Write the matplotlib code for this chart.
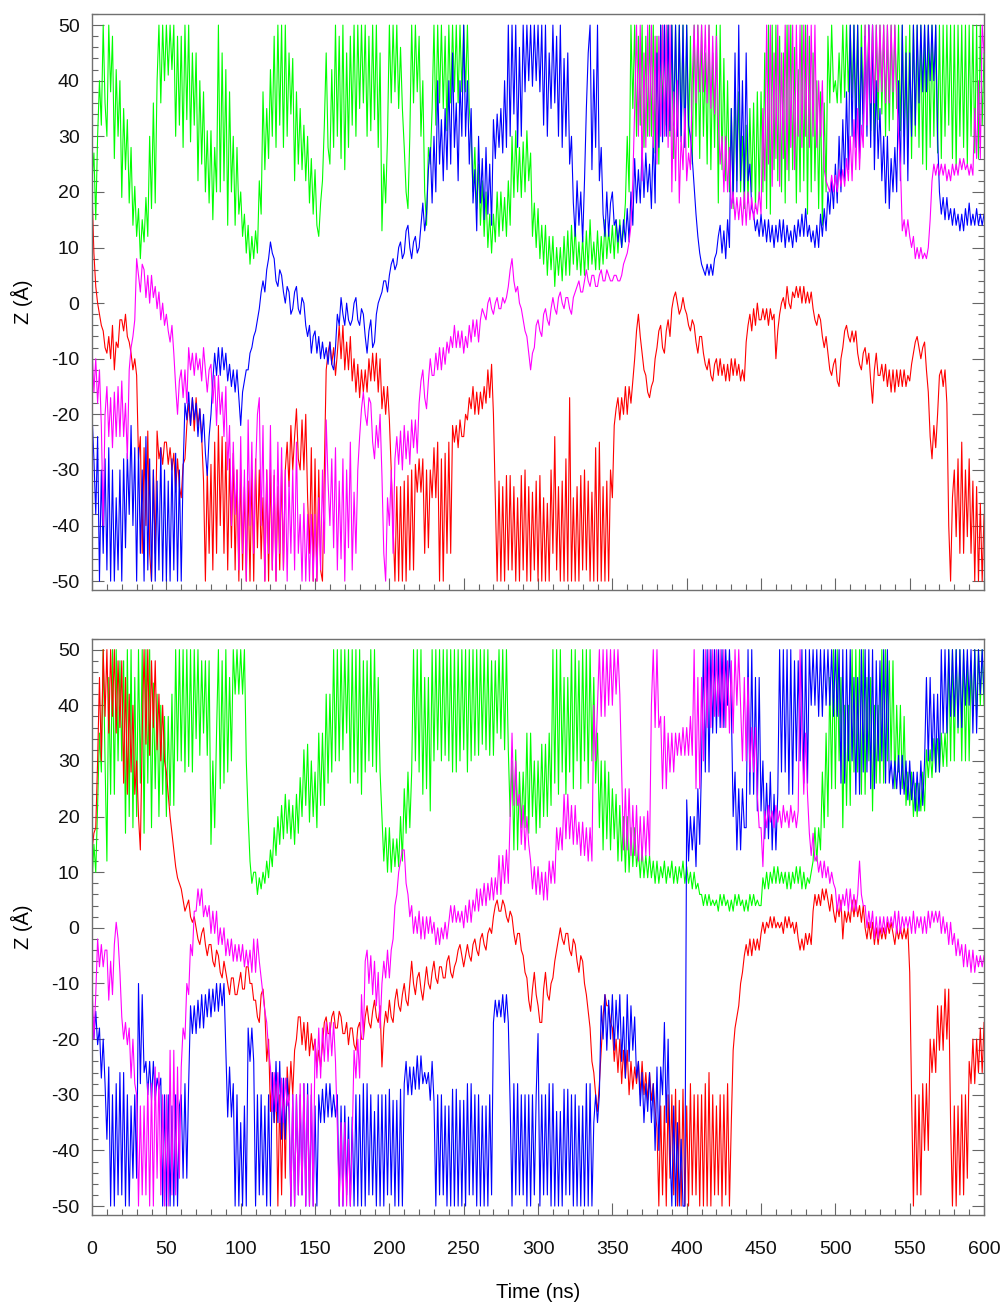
import numpy as np
import matplotlib
matplotlib.use("Agg")
import matplotlib.pyplot as plt
from matplotlib.ticker import MultipleLocator

plt.rcParams['font.family'] = ['Liberation Sans', 'DejaVu Sans']
plt.rcParams['axes.unicode_minus'] = False

STEP_NS = 1.25  # values below are read every 1.25 ns (one row = 50 ns)

# ---------------- top panel ----------------
top_green = [
    22, 27, 15, 30, 40, 32, 50, 36, 30, 50, 38, 48, 26, 42, 30, 40, 19, 35, 24, 33, 18, 28, 14, 21, 12, 17, 8, 15, 11, 19, 12, 30, 17, 36, 18, 40, 50, 36, 50, 40,
    50, 41, 50, 42, 50, 30, 48, 32, 48, 28, 50, 33, 50, 29, 45, 32, 45, 22, 40, 25, 38, 20, 31, 18, 31, 15, 28, 20, 50, 20, 45, 22, 42, 14, 38, 20, 30, 14, 28, 16,
    20, 12, 16, 9, 14, 7, 12, 8, 13, 9, 22, 16, 38, 24, 35, 26, 42, 30, 48, 28, 50, 32, 50, 28, 50, 30, 45, 34, 44, 22, 38, 25, 35, 24, 32, 22, 30, 18, 26, 16,
    24, 14, 12, 18, 22, 32, 45, 28, 25, 42, 28, 50, 30, 48, 26, 50, 24, 45, 28, 48, 32, 50, 30, 50, 35, 50, 36, 50, 30, 48, 31, 50, 33, 50, 28, 45, 13, 25, 18, 30,
    50, 36, 50, 38, 50, 35, 46, 35, 28, 20, 17, 30, 50, 36, 50, 38, 48, 30, 40, 20, 14, 28, 25, 35, 50, 32, 50, 36, 50, 35, 48, 31, 50, 36, 50, 38, 50, 36, 50, 38,
    50, 38, 50, 35, 30, 20, 28, 17, 25, 14, 22, 12, 20, 10, 16, 9, 16, 11, 20, 12, 20, 13, 19, 12, 22, 14, 30, 19, 31, 20, 28, 19, 29, 20, 31, 22, 27, 12, 18, 10,
    17, 8, 14, 7, 14, 5, 12, 6, 12, 3, 10, 5, 10, 4, 12, 5, 13, 5, 14, 7, 14, 6, 11, 5, 12, 5, 13, 6, 15, 7, 11, 6, 13, 6, 12, 7, 15, 8, 13, 9,
    14, 8, 15, 9, 15, 10, 13, 18, 30, 20, 50, 35, 50, 30, 48, 32, 50, 28, 48, 30, 50, 30, 50, 27, 48, 25, 50, 34, 50, 32, 50, 30, 50, 26, 50, 30, 50, 30, 50, 28,
    50, 28, 48, 25, 50, 30, 50, 26, 50, 30, 45, 25, 50, 24, 45, 28, 50, 18, 50, 24, 44, 22, 40, 20, 35, 17, 38, 22, 38, 20, 30, 17, 32, 18, 35, 20, 36, 17, 38, 19,
    38, 20, 45, 17, 50, 16, 50, 24, 50, 22, 48, 20, 45, 18, 50, 22, 50, 24, 46, 18, 42, 20, 50, 22, 50, 16, 48, 20, 45, 22, 40, 17, 38, 14, 36, 20, 48, 36, 50, 38,
    40, 36, 45, 36, 50, 37, 50, 38, 50, 37, 50, 35, 50, 32, 50, 34, 50, 35, 50, 31, 50, 30, 50, 33, 50, 34, 50, 30, 50, 31, 50, 33, 50, 35, 50, 31, 50, 30, 48, 28,
    50, 26, 50, 30, 50, 28, 50, 25, 50, 24, 50, 28, 50, 30, 50, 27, 50, 26, 50, 30, 50, 32, 50, 26, 50, 24, 50, 30, 50, 28, 50, 25, 50, 30, 50, 27, 50, 26, 50, 32,
    45,
]
top_blue = [
    -20, -28, -38, -24, -50, -30, -45, -28, -48, -26, -50, -30, -50, -35, -48, -30, -50, -28, -44, -27, -38, -22, -40, -26, -50, -26, -45, -30, -50, -24, -48, -28, -50, -30, -50, -32, -48, -26, -50, -30,
    -50, -32, -50, -28, -48, -27, -50, -30, -50, -30, -18, -21, -16, -22, -17, -21, -18, -24, -19, -25, -20, -27, -31, -24, -20, -14, -9, -13, -8, -13, -8, -12, -9, -14, -11, -15, -12, -16, -12, -17,
    -22, -16, -14, -12, -12, -9, -8, -6, -5, -3, -1, 2, 4, 2, 6, 8, 11, 9, 8, 4, 3, 6, 5, 2, 0, 3, 2, -2, -1, 2, 3, -1, -2, 1, 0, -4, -6, -4, -9, -6,
    -5, -9, -6, -10, -7, -10, -8, -11, -7, -11, -12, -8, -2, -4, 1, -2, -4, 0, -3, -4, -3, 0, 1, -3, -4, -1, -2, -6, -9, -5, -3, -8, -7, -2, 0, 1, 2, 4, 4, 2,
    5, 7, 8, 6, 7, 10, 11, 8, 9, 13, 14, 10, 8, 11, 12, 9, 10, 14, 18, 13, 16, 24, 28, 18, 30, 20, 40, 25, 33, 22, 35, 24, 40, 25, 45, 28, 36, 22, 40, 30,
    50, 30, 40, 25, 35, 18, 24, 13, 30, 18, 26, 15, 28, 16, 25, 14, 33, 26, 34, 28, 35, 27, 40, 28, 50, 30, 50, 34, 50, 28, 46, 30, 50, 38, 50, 40, 50, 39, 50, 40,
    50, 38, 50, 32, 50, 30, 45, 35, 50, 36, 48, 30, 50, 28, 44, 30, 45, 25, 30, 18, 12, 22, 14, 20, 11, 22, 35, 45, 50, 24, 42, 28, 50, 22, 28, 16, 12, 20, 12, 18,
    20, 14, 15, 11, 14, 10, 15, 11, 17, 11, 20, 14, 26, 18, 24, 18, 28, 19, 27, 20, 25, 17, 30, 18, 45, 28, 50, 29, 50, 30, 50, 31, 50, 32, 50, 30, 50, 29, 50, 28,
    50, 32, 30, 26, 21, 16, 12, 9, 7, 6, 5, 7, 5, 7, 5, 8, 9, 12, 14, 9, 13, 8, 15, 10, 35, 18, 45, 20, 50, 22, 40, 20, 45, 22, 25, 17, 16, 13, 15, 12,
    16, 12, 15, 11, 15, 11, 14, 10, 14, 11, 15, 11, 15, 10, 14, 11, 13, 10, 14, 11, 15, 12, 16, 12, 17, 12, 14, 11, 13, 10, 14, 10, 16, 12, 17, 13, 20, 16, 22, 17,
    25, 18, 30, 20, 33, 22, 38, 24, 50, 30, 50, 28, 50, 26, 46, 30, 48, 30, 50, 28, 50, 24, 40, 26, 35, 22, 30, 18, 30, 17, 26, 20, 28, 20, 40, 22, 50, 25, 45, 22,
    45, 30, 50, 32, 50, 36, 50, 38, 50, 38, 50, 40, 50, 40, 50, 30, 20, 16, 19, 15, 19, 15, 17, 14, 17, 14, 16, 13, 16, 13, 17, 14, 18, 14, 16, 14, 17, 14, 16, 14,
    16,
]
top_red = [
    20, 9, 3, 0, -2, -4, -5, -8, -9, -6, -10, -4, -12, -7, -8, -3, -3, -5, -2, -6, -7, -9, -12, -10, -13, -28, -24, -45, -26, -40, -23, -45, -50, -30, -45, -23, -28, -26, -29, -25,
    -25, -29, -26, -30, -27, -34, -28, -33, -35, -29, -28, -22, -18, -22, -17, -23, -17, -22, -19, -24, -32, -50, -30, -45, -29, -48, -25, -45, -22, -40, -24, -45, -25, -48, -28, -44, -27, -48, -30, -50,
    -30, -48, -33, -50, -32, -50, -30, -50, -28, -44, -30, -46, -35, -50, -30, -50, -30, -48, -31, -50, -33, -48, -30, -48, -30, -25, -33, -22, -30, -24, -19, -28, -30, -21, -30, -20, -35, -45, -26, -50,
    -28, -50, -30, -48, -50, -30, -12, -9, -7, -11, -8, -13, -9, -4, -10, -4, -12, -7, -12, -6, -14, -10, -16, -11, -17, -12, -16, -12, -16, -10, -14, -9, -14, -9, -16, -10, -19, -15, -20, -15,
    -21, -30, -40, -50, -33, -50, -33, -50, -32, -50, -31, -48, -30, -48, -29, -34, -28, -34, -28, -45, -30, -44, -30, -35, -26, -35, -25, -50, -28, -50, -27, -45, -25, -45, -22, -25, -22, -26, -21, -24,
    -24, -20, -21, -17, -19, -15, -20, -16, -20, -16, -19, -15, -18, -12, -17, -11, -20, -35, -50, -32, -50, -33, -50, -31, -48, -31, -48, -33, -50, -35, -50, -31, -48, -30, -50, -33, -50, -34, -48, -32,
    -50, -31, -50, -35, -50, -36, -50, -30, -45, -24, -48, -33, -50, -32, -50, -28, -50, -17, -50, -35, -50, -33, -50, -31, -48, -30, -48, -32, -50, -34, -50, -26, -50, -25, -50, -33, -50, -32, -50, -30,
    -35, -22, -19, -17, -21, -17, -20, -15, -20, -15, -18, -14, -10, -5, -2, -6, -9, -12, -13, -16, -17, -15, -14, -10, -8, -5, -4, -8, -9, -5, -3, -6, -1, 1, 2, 0, -2, -1, 1, -1,
    -2, -4, -5, -3, -4, -7, -9, -6, -6, -9, -11, -12, -10, -13, -14, -11, -10, -13, -10, -13, -11, -14, -11, -14, -10, -13, -10, -13, -11, -14, -12, -14, -7, -4, -2, -5, -1, -4, 0, -3,
    -3, -1, -3, -1, -4, -1, -3, -2, -10, -5, -2, 0, 1, -1, 3, 0, -1, 2, 1, 3, 1, 3, 0, 3, 0, 2, 0, 2, -1, -3, -4, -2, -3, -6, -8, -6, -9, -12, -13, -11,
    -10, -14, -15, -10, -8, -5, -4, -6, -7, -5, -7, -5, -9, -11, -12, -9, -8, -11, -9, -14, -18, -12, -9, -13, -13, -11, -14, -11, -15, -12, -16, -12, -16, -12, -15, -12, -15, -12, -15, -13,
    -14, -11, -9, -7, -6, -8, -10, -8, -7, -12, -16, -24, -28, -22, -26, -20, -13, -12, -15, -12, -18, -40, -50, -35, -30, -42, -28, -45, -25, -45, -30, -42, -28, -45, -32, -50, -33, -50, -36, -50,
    -38,
]
top_magenta = [
    -8, -16, -10, -18, -12, -22, -40, -20, -15, -24, -17, -26, -16, -24, -15, -24, -14, -24, -18, -28, -12, -8, -6, -3, 8, 5, 2, 7, 6, 1, 5, 0, 5, 1, 3, -1, 2, -3, 0, -4,
    -2, -5, -7, -4, -9, -15, -20, -14, -12, -17, -12, -18, -8, -12, -9, -13, -9, -12, -10, -14, -8, -12, -16, -12, -11, -18, -13, -22, -13, -20, -16, -24, -15, -30, -22, -40, -25, -38, -30, -48,
    -24, -45, -30, -50, -21, -40, -25, -45, -30, -20, -17, -40, -22, -50, -30, -45, -22, -48, -30, -50, -25, -45, -26, -48, -30, -50, -32, -45, -30, -48, -25, -45, -38, -50, -36, -50, -38, -50, -38, -50,
    -38, -50, -35, -48, -30, -45, -21, -32, -40, -28, -44, -26, -48, -32, -46, -28, -50, -30, -44, -25, -48, -34, -45, -30, -24, -19, -16, -20, -22, -17, -18, -25, -28, -22, -26, -20, -31, -45, -50, -35,
    -40, -30, -45, -28, -24, -29, -23, -30, -22, -28, -23, -29, -21, -26, -21, -27, -18, -14, -12, -17, -19, -14, -10, -13, -13, -9, -12, -8, -12, -8, -11, -7, -9, -6, -8, -4, -8, -5, -8, -5,
    -9, -6, -8, -4, -7, -3, -6, -3, -7, -3, -1, -2, -3, 0, 1, -1, -2, 0, 1, -1, -1, 1, 0, 1, 3, 6, 8, 4, 2, 3, 0, -1, -3, -5, -6, -9, -12, -9, -8, -4,
    -3, -5, -6, -2, -1, -3, -4, -1, 1, -1, -2, 1, 2, 0, -1, 1, 1, -1, -2, 1, 2, 3, 4, 2, 2, 4, 6, 4, 3, 5, 5, 3, 3, 5, 6, 4, 4, 6, 5, 4,
    4, 5, 5, 4, 4, 5, 7, 8, 9, 11, 14, 22, 35, 50, 30, 50, 22, 45, 28, 50, 30, 50, 28, 48, 25, 48, 30, 50, 30, 50, 28, 50, 20, 38, 22, 40, 18, 30, 24, 35,
    22, 27, 24, 40, 50, 36, 50, 38, 50, 38, 50, 36, 50, 35, 48, 34, 48, 33, 25, 30, 20, 30, 20, 28, 17, 20, 15, 19, 15, 19, 14, 20, 14, 20, 15, 19, 15, 18, 16, 20,
    16, 35, 22, 50, 25, 50, 21, 45, 26, 50, 21, 45, 26, 50, 24, 50, 28, 50, 24, 50, 30, 50, 28, 50, 30, 50, 28, 50, 30, 50, 28, 40, 30, 40, 24, 22, 21, 20, 23, 20,
    23, 20, 24, 21, 24, 21, 26, 22, 30, 22, 33, 24, 35, 24, 32, 28, 50, 32, 50, 36, 50, 36, 50, 38, 50, 38, 50, 36, 50, 36, 50, 38, 50, 38, 30, 25, 13, 15, 12, 15,
    12, 10, 12, 8, 10, 8, 10, 8, 9, 8, 10, 15, 22, 25, 23, 25, 23, 25, 23, 25, 22, 24, 22, 25, 23, 25, 23, 26, 24, 26, 24, 25, 23, 25, 23, 35, 26, 40, 26, 50,
    45,
]

# ---------------- bottom panel ----------------
bottom_green = [
    8, 15, 10, 22, 35, 28, 50, 30, 12, 45, 24, 50, 24, 50, 30, 48, 30, 48, 17, 50, 20, 50, 18, 45, 20, 50, 26, 50, 17, 50, 26, 50, 18, 44, 25, 42, 20, 40, 24, 38,
    20, 38, 22, 42, 22, 50, 30, 50, 30, 50, 28, 50, 29, 50, 28, 50, 34, 50, 31, 48, 35, 48, 31, 48, 15, 30, 18, 35, 50, 25, 48, 26, 50, 28, 45, 30, 50, 42, 50, 42,
    50, 42, 50, 30, 20, 12, 8, 10, 10, 6, 9, 7, 10, 8, 12, 9, 14, 11, 18, 13, 20, 15, 22, 16, 24, 17, 23, 16, 22, 15, 24, 17, 27, 20, 32, 22, 33, 19, 30, 20,
    28, 18, 35, 22, 35, 22, 42, 26, 42, 28, 50, 30, 50, 30, 50, 32, 50, 35, 50, 26, 50, 28, 50, 26, 50, 24, 48, 28, 48, 30, 50, 29, 50, 28, 45, 28, 20, 12, 18, 10,
    18, 10, 16, 11, 16, 11, 20, 12, 25, 17, 28, 18, 28, 50, 30, 50, 28, 50, 24, 45, 25, 45, 21, 50, 30, 50, 32, 50, 30, 50, 31, 50, 30, 50, 28, 50, 28, 50, 30, 50,
    32, 50, 28, 50, 30, 50, 31, 50, 31, 50, 33, 50, 32, 50, 31, 48, 31, 48, 35, 50, 34, 50, 32, 50, 32, 20, 30, 14, 32, 14, 28, 18, 28, 18, 35, 17, 35, 20, 30, 17,
    30, 18, 33, 20, 33, 20, 35, 22, 50, 26, 50, 24, 50, 28, 45, 24, 45, 28, 50, 25, 50, 30, 48, 25, 50, 30, 50, 26, 50, 30, 45, 26, 35, 18, 30, 14, 30, 16, 28, 14,
    25, 16, 24, 12, 22, 12, 20, 10, 20, 10, 18, 11, 18, 11, 14, 9, 14, 9, 13, 9, 13, 9, 12, 8, 12, 8, 11, 9, 12, 8, 11, 9, 12, 8, 11, 8, 11, 9, 12, 8,
    11, 8, 10, 7, 10, 7, 8, 6, 6, 4, 6, 4, 6, 4, 5, 4, 5, 3, 6, 4, 6, 4, 5, 3, 5, 3, 6, 4, 6, 4, 5, 3, 5, 3, 6, 4, 6, 4, 5, 4,
    4, 9, 7, 10, 7, 10, 8, 11, 8, 11, 8, 10, 8, 10, 7, 10, 7, 10, 8, 11, 8, 11, 7, 10, 7, 9, 8, 10, 12, 18, 12, 18, 14, 28, 18, 35, 20, 45, 25, 50,
    25, 50, 30, 45, 18, 40, 22, 40, 22, 50, 28, 50, 28, 50, 24, 50, 24, 45, 30, 45, 21, 40, 26, 40, 26, 50, 26, 50, 30, 48, 30, 48, 25, 40, 28, 40, 25, 38, 22, 28,
    22, 28, 20, 26, 20, 26, 21, 28, 21, 32, 27, 32, 27, 34, 28, 34, 28, 35, 29, 35, 29, 50, 30, 50, 30, 50, 35, 50, 30, 50, 30, 48, 30, 48, 38, 50, 38, 50, 40, 50,
    40,
]
bottom_blue = [
    -14, -20, -15, -21, -18, -27, -20, -28, -38, -25, -50, -30, -50, -28, -48, -26, -48, -26, -50, -30, -50, -32, -45, -30, -45, -10, -28, -12, -26, -24, -30, -24, -31, -24, -31, -27, -29, -27, -50, -30,
    -50, -30, -50, -32, -50, -30, -50, -32, -30, -45, -28, -45, -28, -14, -19, -14, -19, -13, -18, -12, -18, -12, -16, -11, -16, -11, -15, -10, -15, -10, -14, -10, -22, -34, -25, -34, -28, -50, -30, -50,
    -35, -50, -32, -50, -18, -24, -18, -24, -50, -30, -48, -30, -48, -32, -50, -30, -50, -26, -35, -24, -35, -24, -38, -27, -38, -27, -33, -50, -30, -50, -30, -48, -30, -48, -28, -50, -28, -50, -30, -50,
    -32, -50, -30, -35, -29, -35, -28, -34, -28, -34, -30, -34, -30, -50, -32, -50, -32, -48, -34, -50, -34, -50, -30, -50, -30, -50, -28, -50, -28, -48, -30, -48, -33, -50, -30, -50, -30, -50, -30, -48,
    -29, -48, -31, -50, -31, -50, -29, -50, -28, -24, -30, -25, -30, -25, -29, -23, -29, -23, -28, -26, -28, -26, -31, -24, -31, -50, -30, -48, -30, -48, -32, -50, -32, -50, -29, -50, -29, -50, -31, -50,
    -31, -50, -28, -48, -28, -48, -30, -50, -30, -50, -32, -50, -32, -50, -30, -48, -17, -13, -16, -13, -16, -12, -17, -12, -17, -32, -50, -28, -48, -28, -48, -30, -48, -30, -50, -30, -50, -30, -48, -30,
    -19, -50, -30, -48, -30, -48, -28, -50, -28, -50, -33, -50, -33, -50, -29, -48, -29, -48, -30, -50, -30, -50, -32, -50, -32, -50, -28, -50, -28, -50, -35, -30, -35, -30, -14, -20, -12, -22, -13, -20,
    -12, -22, -13, -20, -12, -24, -16, -27, -12, -24, -14, -22, -16, -27, -24, -32, -26, -35, -28, -33, -26, -35, -28, -40, -25, -40, -25, -30, -17, -35, -20, -40, -50, -32, -50, -35, -50, -38, -50, -50,
    23, 12, 20, 14, 20, 11, 25, 15, 30, 50, 28, 50, 28, 50, 35, 50, 35, 50, 36, 50, 36, 50, 40, 50, 40, 20, 28, 14, 25, 14, 25, 18, 18, 50, 24, 50, 24, 45, 21, 45,
    21, 30, 16, 26, 16, 28, 14, 24, 14, 24, 50, 28, 50, 28, 50, 24, 50, 24, 48, 30, 48, 30, 50, 26, 50, 26, 50, 40, 50, 40, 50, 38, 50, 38, 50, 40, 50, 40, 50, 38,
    50, 38, 50, 26, 50, 26, 50, 30, 50, 30, 45, 24, 45, 24, 50, 28, 50, 28, 50, 25, 50, 25, 48, 30, 48, 30, 50, 26, 50, 26, 30, 25, 30, 25, 31, 24, 31, 24, 30, 23,
    30, 23, 28, 21, 28, 21, 30, 22, 30, 45, 30, 45, 30, 42, 28, 42, 28, 50, 35, 50, 35, 50, 38, 50, 38, 50, 36, 50, 36, 50, 40, 50, 40, 50, 35, 50, 35, 50, 42, 50,
    42,
]
bottom_red = [
    14, 17, 18, 30, 45, 30, 50, 38, 50, 35, 50, 38, 50, 35, 48, 36, 48, 26, 45, 24, 42, 28, 40, 24, 30, 20, 14, 35, 50, 33, 50, 31, 48, 36, 48, 32, 42, 30, 40, 30,
    28, 24, 20, 17, 14, 11, 9, 8, 7, 5, 3, 4, 5, 2, 1, 2, 0, -2, -3, -1, 0, -3, -5, -3, -3, -6, -7, -4, -5, -8, -9, -6, -8, -10, -12, -9, -9, -12, -12, -10,
    -8, -11, -11, -7, -7, -10, -10, -13, -13, -16, -17, -12, -11, -15, -24, -20, -33, -26, -35, -28, -50, -30, -48, -28, -45, -25, -31, -24, -30, -22, -20, -16, -16, -21, -17, -22, -17, -23, -19, -22,
    -20, -25, -22, -25, -21, -17, -16, -19, -19, -16, -15, -18, -18, -15, -16, -19, -19, -17, -21, -18, -18, -21, -22, -18, -17, -20, -20, -16, -14, -17, -18, -15, -13, -16, -17, -14, -25, -18, -15, -17,
    -13, -16, -17, -13, -11, -14, -15, -12, -10, -13, -14, -10, -6, -10, -12, -9, -8, -11, -13, -10, -7, -10, -11, -8, -6, -9, -10, -7, -7, -9, -9, -6, -5, -8, -9, -7, -6, -4, -3, -5,
    -7, -5, -3, -5, -6, -3, -2, -4, -5, -2, -1, -3, -4, -1, 0, -1, 2, 4, 5, 3, 3, 5, 4, 2, 1, 3, 2, -1, -3, -1, -1, -4, -5, -8, -9, -13, -15, -11, -8, -12,
    -14, -17, -17, -11, -8, -12, -13, -10, -9, -6, -4, -2, 0, -2, -3, -1, -1, -4, -5, -2, -3, -6, -8, -5, -6, -10, -12, -15, -18, -24, -26, -30, -33, -28, -22, -16, -12, -14, -14, -17,
    -18, -24, -20, -26, -20, -28, -22, -27, -22, -30, -24, -29, -25, -28, -24, -30, -24, -30, -26, -31, -26, -31, -28, -33, -36, -50, -32, -48, -32, -50, -30, -45, -30, -48, -29, -50, -31, -50, -29, -50,
    -32, -50, -28, -48, -30, -48, -30, -50, -30, -50, -28, -50, -26, -50, -30, -48, -32, -48, -30, -50, -30, -48, -28, -50, -35, -22, -18, -16, -14, -10, -8, -5, -3, -5, -2, -5, -2, -4, -2, -4,
    -1, 1, -1, 1, 0, 2, 0, 2, 0, 1, 0, 1, -1, 2, 0, 2, 0, 1, -1, 1, -2, -4, -2, -4, -1, -3, -1, -3, 3, 6, 4, 6, 4, 7, 5, 7, 5, 3, 6, 3,
    1, 4, 2, 5, -2, 3, 1, 3, 1, 5, 2, 5, 2, 4, 1, 4, 0, -2, 1, -2, 1, -3, 0, -3, 0, -2, 0, -2, 1, -1, 1, -1, -3, 0, -2, 0, -2, 0, -2, 0,
    -8, -30, -50, -30, -48, -30, -48, -28, -40, -28, -40, -20, -26, -20, -26, -14, -22, -14, -22, -11, -20, -11, -35, -50, -32, -50, -32, -48, -30, -48, -30, -45, -24, -28, -20, -28, -20, -26, -18, -26,
    -17,
]
bottom_magenta = [
    -10, -20, -12, -2, -7, -3, -7, -4, -4, -13, -6, -12, -3, 1, -2, -8, -16, -20, -17, -21, -18, -27, -20, -28, -30, -50, -32, -48, -32, -48, -28, -50, -28, -50, -25, -45, -26, -48, -30, -50,
    -30, -50, -22, -48, -22, -48, -25, -45, -25, -18, -20, -10, -12, -3, -5, 3, 3, 7, 4, 7, 2, 4, 2, 4, -1, 3, -1, 3, -3, 0, -3, 0, -5, -2, -5, -2, -6, -3, -6, -3,
    -6, -3, -7, -4, -7, -4, -8, -2, -8, -2, -6, -9, -12, -15, -17, -22, -25, -33, -26, -33, -26, -35, -27, -35, -27, -32, -30, -50, -30, -50, -30, -48, -28, -48, -28, -50, -30, -50, -28, -50,
    -20, -27, -18, -27, -18, -24, -17, -24, -17, -23, -17, -24, -36, -50, -35, -50, -35, -50, -38, -50, -38, -22, -27, -20, -27, -12, -20, -6, -4, -10, -5, -12, -6, -14, -8, -18, -10, -6, -9, -4,
    -9, -4, -2, 4, 6, 10, 12, 14, 14, 8, 6, 2, 4, -1, 2, -1, 3, -2, 2, -2, 2, -1, 2, -1, 1, -3, 0, -3, 0, -2, 1, -2, 1, 4, 1, 4, 1, 3, 1, 3,
    0, 4, 1, 5, 1, 5, 3, 7, 3, 7, 4, 8, 4, 8, 5, 9, 5, 9, 6, 13, 6, 13, 8, 14, 8, 20, 35, 22, 30, 22, 24, 15, 22, 14, 20, 15, 12, 7, 11, 6,
    11, 6, 10, 5, 10, 5, 12, 8, 12, 8, 18, 14, 18, 14, 24, 16, 24, 16, 22, 15, 22, 15, 19, 13, 19, 13, 18, 12, 18, 12, 40, 30, 40, 50, 38, 50, 38, 50, 40, 50,
    40, 50, 42, 50, 42, 28, 14, 25, 14, 25, 13, 22, 13, 22, 12, 20, 12, 20, 13, 21, 13, 40, 50, 36, 50, 36, 38, 25, 38, 25, 35, 28, 35, 28, 35, 31, 35, 31, 36, 31,
    36, 31, 38, 31, 50, 25, 45, 25, 45, 30, 50, 36, 50, 36, 50, 38, 50, 38, 50, 36, 50, 36, 48, 35, 48, 35, 50, 40, 50, 40, 30, 45, 30, 45, 28, 36, 28, 36, 24, 18,
    18, 11, 21, 18, 22, 19, 21, 18, 22, 19, 21, 18, 22, 19, 21, 18, 22, 19, 21, 18, 21, 50, 35, 24, 35, 24, 17, 13, 17, 12, 13, 10, 12, 9, 12, 9, 11, 8, 10, 8,
    7, 3, 6, 3, 6, 4, 7, 3, 7, 3, 6, 3, 6, 12, 6, 4, 4, 0, 3, 0, 3, -2, 2, -2, 2, -1, 2, -1, 2, 0, 2, 0, 3, -1, 3, -1, 2, 0, 2, 0,
    2, -1, 3, -1, 2, 0, 2, -1, 2, -1, 3, 0, 3, 1, 3, 1, 3, -1, 2, -1, 1, -3, 1, -3, -1, -5, -2, -5, -3, -7, -3, -7, -4, -8, -4, -8, -5, -7, -5, -7,
    -5,
]

colors = {"green": "#00ff00", "blue": "#0000ff", "red": "#ff0000", "magenta": "#ff00ff"}
x_ticks = [0, 50, 100, 150, 200, 250, 300, 350, 400, 450, 500, 550, 600]
y_ticks = [-50, -40, -30, -20, -10, 0, 10, 20, 30, 40, 50]

panels = [
    [("green", top_green), ("red", top_red), ("blue", top_blue), ("magenta", top_magenta)],
    [("green", bottom_green), ("red", bottom_red), ("blue", bottom_blue), ("magenta", bottom_magenta)],
]

fig = plt.figure(figsize=(10.07, 13.06), dpi=100)
ax_top = fig.add_axes([0.0914, 0.5482, 0.8858, 0.4411])
ax_bot = fig.add_axes([0.0914, 0.0697, 0.8858, 0.4414])

for ax, series in zip([ax_top, ax_bot], panels):
    for name, vals in series:
        t = np.arange(len(vals)) * STEP_NS
        ax.plot(t, vals, color=colors[name], lw=0.8)
    ax.set_xlim(0, 600)
    ax.set_ylim(-51.6, 52.0)
    ax.set_xticks(x_ticks)
    ax.set_yticks(y_ticks)
    ax.xaxis.set_minor_locator(MultipleLocator(10))
    ax.yaxis.set_minor_locator(MultipleLocator(2))
    ax.tick_params(which='both', direction='in', top=False, right=True,
                   color='#666666', labelcolor='#111111')
    ax.tick_params(which='major', length=8.5, width=0.8)
    ax.tick_params(which='minor', length=4.3, width=0.8)
    ax.tick_params(axis='y', labelsize=14, pad=9)
    ax.tick_params(axis='x', labelsize=14, pad=19)
    for s in ax.spines.values():
        s.set_color('#707070')
        s.set_linewidth(1.0)
    ax.set_ylabel('Z (Å)', fontsize=14.5)
    ax.yaxis.set_label_coords(-0.066, 0.5)

ax_top.tick_params(labelbottom=False)
ax_bot.set_xlabel('Time (ns)', fontsize=14.5)
ax_bot.xaxis.set_label_coords(0.5, -0.118)

fig.savefig("out.png", dpi=100, facecolor='white')
